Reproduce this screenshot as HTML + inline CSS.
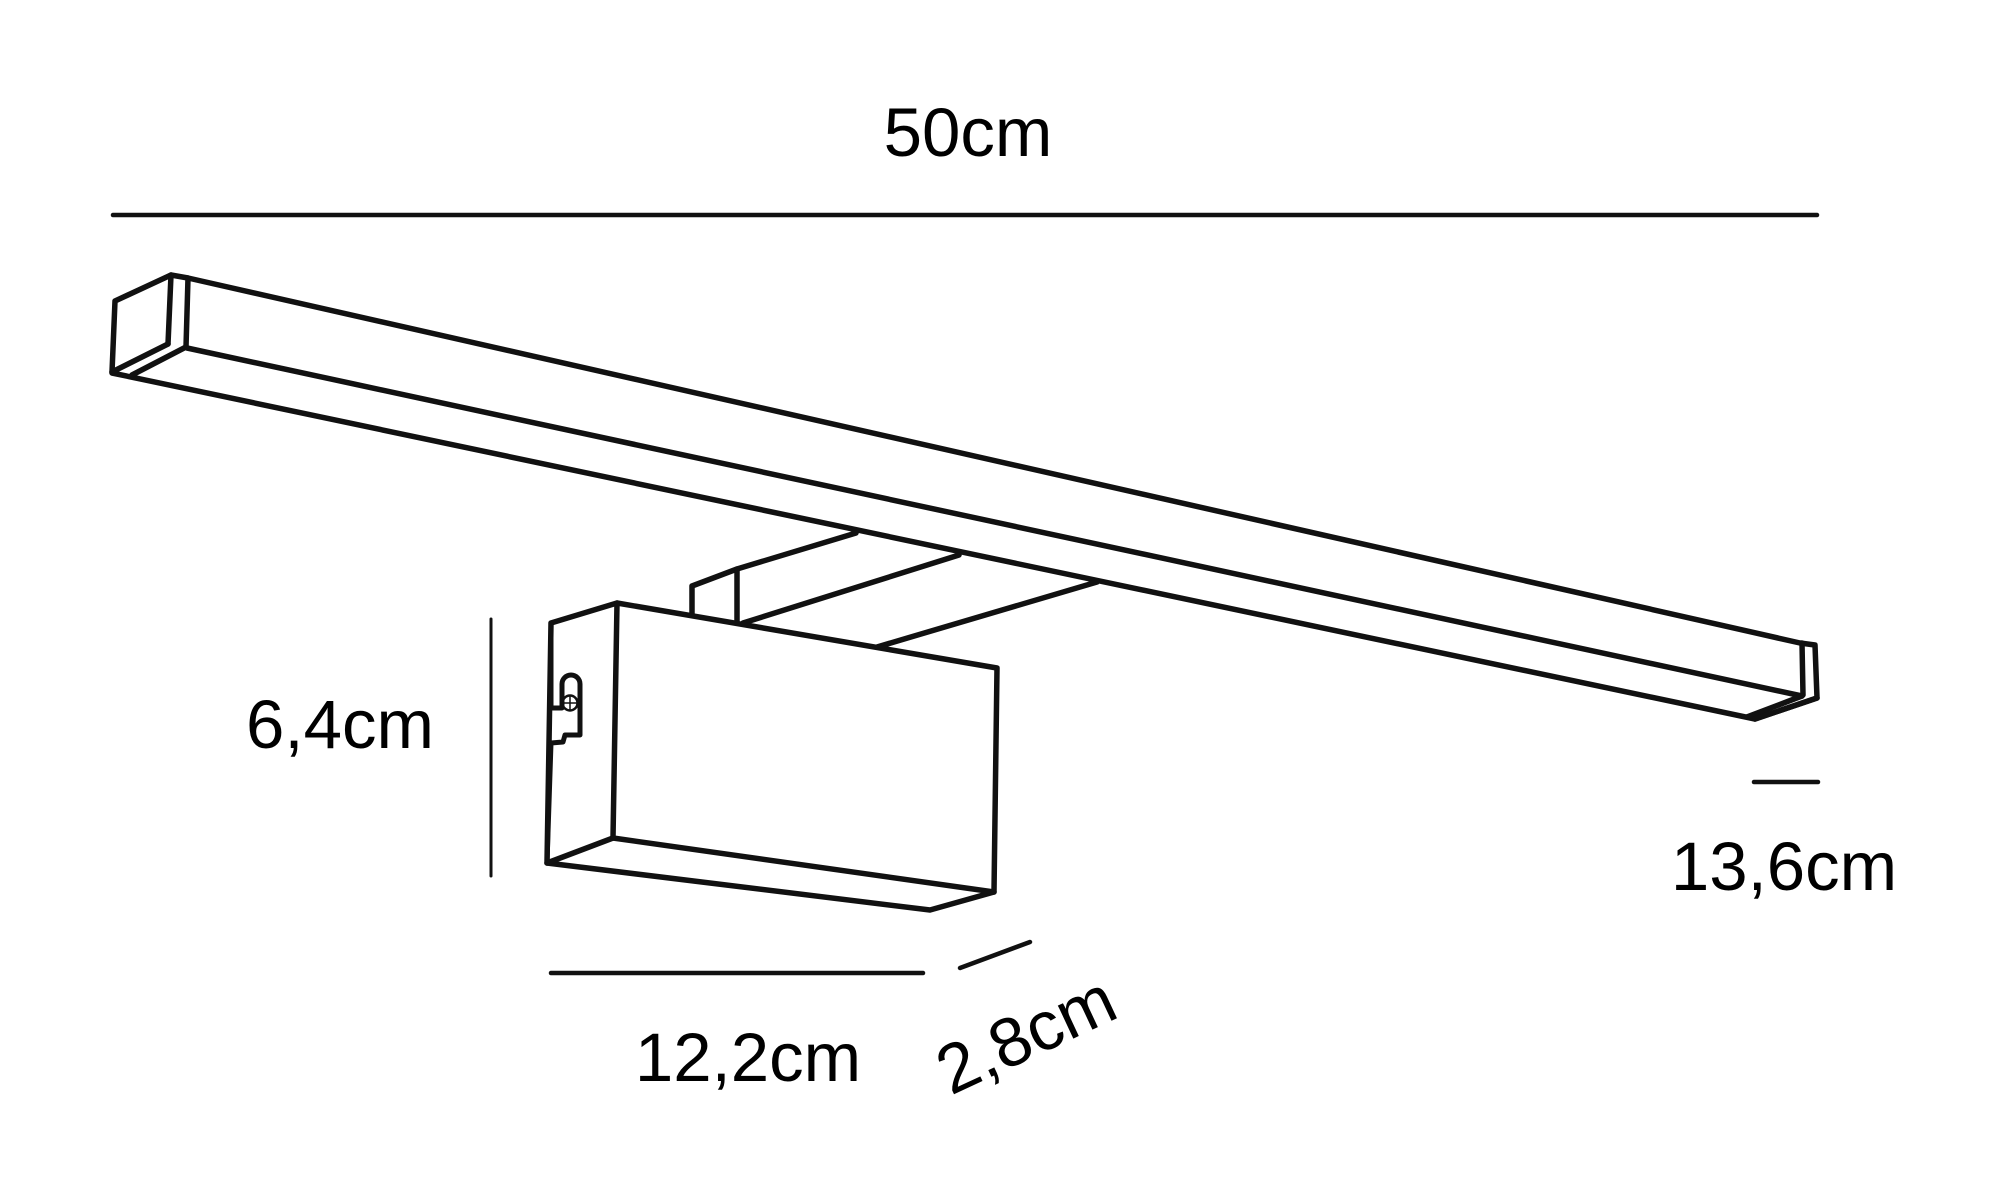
<!DOCTYPE html>
<html><head><meta charset="utf-8"><style>
html,body{margin:0;padding:0;background:#fff;}
svg{display:block;}
text{font-family:"Liberation Sans",Arial,sans-serif;fill:#000;}
</style></head><body>
<svg width="2000" height="1193" viewBox="0 0 2000 1193" xmlns="http://www.w3.org/2000/svg">
<g fill="none" stroke="#111" stroke-width="5.5" stroke-linejoin="round" stroke-linecap="round">
<line x1="113" y1="215" x2="1817" y2="215" stroke-width="4.5"/>
<line x1="491" y1="619" x2="491" y2="876" stroke-width="3"/>
<line x1="1754" y1="782" x2="1818" y2="782" stroke-width="4.5"/>
<line x1="551" y1="973" x2="923" y2="973" stroke-width="4.5"/>
<line x1="960" y1="968" x2="1030" y2="942" stroke-width="4.5"/>
<polyline points="112,372 115,301 171,275 188,278 1800,643 1815,645 1817,698 1755,719 112,373"/>
<line x1="171" y1="275" x2="168" y2="344"/>
<line x1="188" y1="278" x2="186" y2="347"/>
<line x1="112" y1="372" x2="168" y2="344"/>
<line x1="132" y1="375" x2="186" y2="347"/>
<line x1="187" y1="348" x2="1802" y2="696"/>
<line x1="1802" y1="643" x2="1803" y2="695"/>
<line x1="1747" y1="717" x2="1802" y2="696"/>
<line x1="1755" y1="719" x2="1817" y2="698"/>
<polyline points="692,614 692,586 737,569 856,533"/>
<line x1="737" y1="569" x2="737" y2="621"/>
<line x1="743" y1="623" x2="959" y2="555"/>
<line x1="877" y1="647" x2="1097" y2="582"/>
<polygon points="617,603 997,668 994,892 930,910 547,863 551,623" fill="#fff"/>
<polyline points="617,603 613,838 994,892"/>
<line x1="547" y1="863" x2="613" y2="838"/>
<path d="M551,623 L551,708 L562,708 L562,684 A9,9 0 0 1 580,684 L580,735 L565,735 L563,742 L551,743 L547,863" stroke-width="5"/>
<circle cx="570" cy="703" r="7.5" stroke-width="2.5"/>
<line x1="570" y1="696" x2="570" y2="710" stroke-width="1.5"/>
<line x1="563" y1="703" x2="577" y2="703" stroke-width="1.5"/>
</g>
<text x="968" y="156" font-size="69" text-anchor="middle">50cm</text>
<text x="340" y="748" font-size="69" text-anchor="middle">6,4cm</text>
<text x="1784" y="890" font-size="69" text-anchor="middle">13,6cm</text>
<text x="748" y="1081" font-size="69" text-anchor="middle">12,2cm</text>
<text x="0" y="0" font-size="69" text-anchor="middle" transform="translate(1036,1056) rotate(-25)">2,8cm</text>
</svg>
</body></html>
